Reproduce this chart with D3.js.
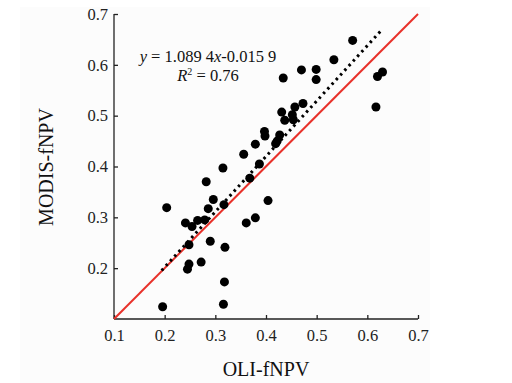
<!DOCTYPE html>
<html><head><meta charset="utf-8">
<script src="https://cdn.jsdelivr.net/npm/d3@7"></script>
<style>body{margin:0;background:#fff}svg{display:block}</style>
</head><body>
<svg id="c" width="512" height="383"></svg>
<script>
const oliX = [0.196,0.204,0.241,0.254,0.248,0.248,0.245,0.265,0.279,0.272,0.282,0.286,0.296,0.290,0.315,0.317,0.319,0.318,0.316,0.361,0.379,0.368,0.387,0.404,0.356,0.379,0.397,0.398,0.419,0.422,0.427,0.431,0.437,0.452,0.454,0.457,0.473,0.434,0.470,0.499,0.499,0.534,0.571,0.617,0.620,0.630];
const modisY = [0.124,0.319,0.289,0.282,0.246,0.208,0.198,0.294,0.295,0.212,0.370,0.317,0.335,0.253,0.397,0.325,0.241,0.173,0.129,0.289,0.299,0.377,0.405,0.333,0.424,0.444,0.469,0.460,0.445,0.450,0.462,0.507,0.491,0.502,0.492,0.517,0.524,0.574,0.590,0.591,0.571,0.610,0.648,0.517,0.577,0.586];
const xTicks = [0.1,0.2,0.3,0.4,0.5,0.6,0.7];
const yTicks = [0.2,0.3,0.4,0.5,0.6,0.7];
const fitSlope = 1.0894, fitIntercept = -0.0159;
const fitRange = [0.194, 0.630];
const oneToOne = [0.1, 0.7];

const svg = d3.select("#c");
const font = "'Liberation Serif','Times New Roman',serif";
svg.append("rect").attr("x",20).attr("y",7).attr("width",410).attr("height",376).attr("fill","#fcfcfc");

const x = d3.scaleLinear().domain([0.1,0.7]).range([114,418]);
const y = d3.scaleLinear().domain([0.1,0.7]).range([319,14]);

const xAxis = svg.append("g").attr("transform","translate(0,319)")
  .call(d3.axisBottom(x).tickValues(xTicks).tickFormat(d3.format(".1f")).tickSizeInner(-4).tickSizeOuter(0).tickPadding(10));
const yAxis = svg.append("g").attr("transform","translate(114,0)")
  .call(d3.axisLeft(y).tickValues(yTicks).tickFormat(d3.format(".1f")).tickSizeInner(-4).tickSizeOuter(0).tickPadding(6));
[xAxis,yAxis].forEach(g=>{
  g.selectAll("path,line").attr("stroke","#222").attr("stroke-width",1.3);
  g.selectAll("text").attr("font-family",font).attr("font-size",16.5).attr("fill","#222");
});
yAxis.select(".domain").attr("d","M0,319V14");
xAxis.select(".domain").attr("d","M114,0H418");

// 1:1 line
svg.append("line").attr("x1",x(oneToOne[0])).attr("y1",y(oneToOne[0])).attr("x2",x(oneToOne[1])).attr("y2",y(oneToOne[1]))
  .attr("stroke","#e8312a").attr("stroke-width",2);

// points
svg.append("g").selectAll("circle").data(oliX.map((v,i)=>[v,modisY[i]])).join("circle")
  .attr("cx",d=>x(d[0])).attr("cy",d=>y(d[1])).attr("r",4.5).attr("fill","#000");

// fit line
svg.append("line").attr("x1",x(fitRange[0])).attr("y1",y(fitSlope*fitRange[0]+fitIntercept))
  .attr("x2",x(fitRange[1])).attr("y2",y(fitSlope*fitRange[1]+fitIntercept))
  .attr("stroke","#000").attr("stroke-width",3).attr("stroke-dasharray","2.5,3.8");

// equation
const eq = svg.append("text").attr("x",208).attr("y",62).attr("text-anchor","middle").attr("font-family",font).attr("font-size",16.5).attr("fill","#111");
eq.append("tspan").attr("font-style","italic").text("y");
eq.append("tspan").text(" = 1.089 4");
eq.append("tspan").attr("font-style","italic").text("x");
eq.append("tspan").text("-0.015 9");
const r2 = svg.append("text").attr("x",208).attr("y",81).attr("text-anchor","middle").attr("font-family",font).attr("font-size",16.5).attr("fill","#111");
r2.append("tspan").attr("font-style","italic").text("R");
r2.append("tspan").attr("font-size",10).attr("dy",-6).text("2");
r2.append("tspan").attr("dy",6).text(" = 0.76");

// axis titles
svg.append("text").attr("x",266).attr("y",376).attr("text-anchor","middle").attr("font-family",font).attr("font-size",20).attr("fill","#111").text("OLI-fNPV");
svg.append("text").attr("transform","translate(53,167) rotate(-90)").attr("text-anchor","middle").attr("font-family",font).attr("font-size",20).attr("fill","#111").text("MODIS-fNPV");
</script>
</body></html>
